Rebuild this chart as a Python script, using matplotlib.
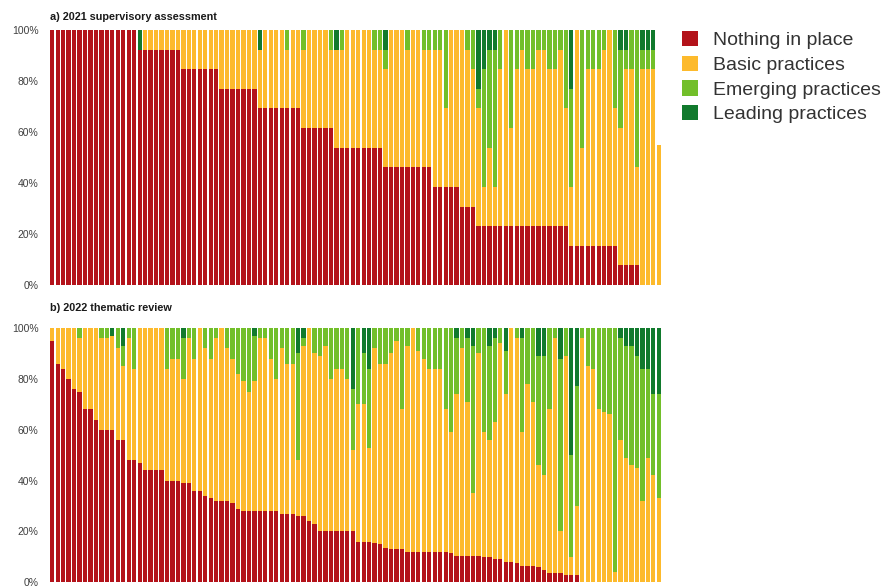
# Two stacked-bar panels: maturity of practices per bank, 2021 vs 2022

import numpy as np
import matplotlib.pyplot as plt
from matplotlib.patches import Patch

plt.rcParams['font.family'] = ['Liberation Sans', 'DejaVu Sans']

categories = ['Nothing in place', 'Basic practices', 'Emerging practices', 'Leading practices']
colors = ['#B3121A', '#FDBA2C', '#72BF2A', '#117A2D']

# a) 2021 supervisory assessment: counts out of 13 items per bank
a_items = 13
a_red = ([13]*16 + [12]*8 + [11]*7 + [10]*7 + [9]*8 + [8]*6 + [7]*9 + [6]*9
         + [5]*5 + [4]*3 + [3]*17 + [2]*9 + [1]*4 + [0]*4)
a_emerging = [0, 0, 0, 0, 0, 0, 0, 0, 0, 0, 0, 0, 0, 0, 0, 0,
              0, 0, 0, 0, 0, 0, 0, 0, 0, 0, 0, 0, 0, 0, 0, 0,
              0, 0, 0, 0, 0, 0, 0, 0, 0, 0, 0, 1, 0, 0, 1, 0,
              0, 0, 0, 1, 0, 1, 0, 0, 0, 0, 0, 1, 1, 1, 0, 0,
              0, 1, 0, 0, 1, 1, 1, 1, 4, 0, 0, 0, 1, 2, 1, 6,
              5, 7, 2, 0, 5, 2, 1, 2, 2, 1, 1, 2, 2, 1, 4, 5,
              0, 6, 2, 2, 2, 1, 0, 4, 4, 1, 2, 7, 1, 1, 1, 0]
a_leading = [0, 0, 0, 0, 0, 0, 0, 0, 0, 0, 0, 0, 0, 0, 0, 0,
             1, 0, 0, 0, 0, 0, 0, 0, 0, 0, 0, 0, 0, 0, 0, 0,
             0, 0, 0, 0, 0, 0, 1, 0, 0, 0, 0, 0, 0, 0, 0, 0,
             0, 0, 0, 0, 1, 0, 0, 0, 0, 0, 0, 0, 0, 1, 0, 0,
             0, 0, 0, 0, 0, 0, 0, 0, 0, 0, 0, 0, 0, 0, 3, 2,
             1, 1, 0, 0, 0, 0, 0, 0, 0, 0, 0, 0, 0, 0, 0, 3,
             0, 0, 0, 0, 0, 0, 0, 0, 1, 1, 0, 0, 1, 1, 1, 0]
a_total = [13]*111 + [7.15]   # last bank not fully assessed

# b) 2022 thematic review: percentages per bank
b_red = [95, 86, 84, 80, 76, 75, 68, 68, 64, 60, 60, 60, 56, 56,
         48, 48, 47, 44, 44, 44, 44,
         40, 40, 40, 39, 39, 36, 36, 34, 33,
         32, 32, 32, 31, 29, 28,
         28, 28, 28, 28, 28, 28, 27,
         27, 27, 26, 26, 24, 23,
         20, 20, 20, 20, 20, 20, 20, 16, 16, 16, 15.5, 15, 13.5, 13, 13, 13,
         12, 12, 12, 12, 12, 12, 12, 12, 11.6,
         10.5, 10.5, 10.3, 10.3, 10.3, 10, 10, 9, 9, 8, 8, 7.5,
         6.5, 6.5, 6.5, 6, 5, 3.5, 3.5, 3.5, 3, 3, 3,
         0, 0, 0, 0, 0, 0, 0, 0, 0, 0, 0, 0, 0, 0, 0]
b_emerging = [0, 0, 0, 0, 0, 4, 0, 0, 0, 4, 4, 0, 8, 8, 4, 16,
              0, 0, 0, 0, 0, 16, 12, 12, 16, 4, 12, 0, 8, 12, 4, 0,
              8, 12, 18, 21, 25, 18, 4, 4, 12, 20, 8, 14, 14, 42, 3, 0,
              10, 11, 7, 20, 16, 16, 20, 24, 30, 20, 31, 8, 14, 14, 10, 5,
              32, 7, 0, 9, 12, 16, 16, 16, 32, 41, 22, 8, 25, 58, 10, 41,
              37, 33, 6, 17, 0, 4, 37, 22, 29, 43, 47, 32, 4, 68, 11, 40,
              47, 4, 15, 16, 32, 33, 34, 96, 40, 44, 47, 44, 52, 35, 32, 41]
b_leading = [0, 0, 0, 0, 0, 0, 0, 0, 0, 0, 0, 3, 0, 7, 0, 0,
             0, 0, 0, 0, 0, 0, 0, 0, 4, 0, 0, 0, 0, 0, 0, 0,
             0, 0, 0, 0, 0, 3, 0, 0, 0, 0, 0, 0, 0, 10, 4, 0,
             0, 0, 0, 0, 0, 0, 0, 24, 0, 10, 16, 0, 0, 0, 0, 0,
             0, 0, 0, 0, 0, 0, 0, 0, 0, 0, 4, 0, 4, 7, 0, 0,
             7, 4, 0, 9, 0, 0, 4, 0, 0, 11, 11, 0, 0, 12, 0, 50,
             23, 0, 0, 0, 0, 0, 0, 0, 4, 7, 7, 11, 16, 16, 26, 26]

# convert panel a counts to percent, basic practices fill the rest
a_scale = 100 / a_items
a_red_pct = np.array(a_red) * a_scale
a_em_pct = np.array(a_emerging) * a_scale
a_le_pct = np.array(a_leading) * a_scale
a_basic_pct = np.array(a_total) * a_scale - a_red_pct - a_em_pct - a_le_pct

b_red = np.array(b_red, dtype=float)
b_em = np.array(b_emerging, dtype=float)
b_le = np.array(b_leading, dtype=float)
b_basic = 100 - b_red - b_em - b_le


def draw_panel(ax, series):
    x = np.arange(len(series[0]))
    bottom = np.zeros(len(x))
    for vals, col in zip(series, colors):
        ax.bar(x, vals, bottom=bottom, width=0.78, color=col, linewidth=0)
        bottom += vals
    ax.set_xlim(-0.5, len(x) - 0.5)
    ax.set_ylim(0, 100)
    ax.set_yticks(range(0, 101, 20))
    ax.set_yticklabels([f'{t}%' for t in range(0, 101, 20)])
    ax.tick_params(axis='y', length=0, labelsize=7.5, colors='#404040', pad=8)
    ax.set_xticks([])
    for s in ax.spines.values():
        s.set_visible(False)


fig = plt.figure(figsize=(8.82, 5.88), dpi=100)
ax_a = fig.add_axes([49.5/882, 1 - 285/588, 612/882, 255/588])
ax_b = fig.add_axes([49.5/882, 1 - 582.3/588, 612/882, 254.3/588])

draw_panel(ax_a, [a_red_pct, a_basic_pct, a_em_pct, a_le_pct])
draw_panel(ax_b, [b_red, b_basic, b_em, b_le])

fig.text(50/882, 1 - 17/588, 'a) 2021 supervisory assessment', fontsize=7.8,
         fontweight='bold', color='#1a1a1a', va='center')
fig.text(50/882, 1 - 308/588, 'b) 2022 thematic review', fontsize=7.8,
         fontweight='bold', color='#1a1a1a', va='center')

handles = [Patch(facecolor=c, edgecolor='none') for c in colors]
fig.legend(handles, categories, loc='upper left',
           bbox_to_anchor=(682/882, 1 - 31/588), frameon=False,
           fontsize=14, handlelength=0.82, handleheight=0.82,
           handletextpad=0.78, labelspacing=0.33,
           borderpad=0, borderaxespad=0, labelcolor='#333333')

fig.savefig('out.png', dpi=100)
